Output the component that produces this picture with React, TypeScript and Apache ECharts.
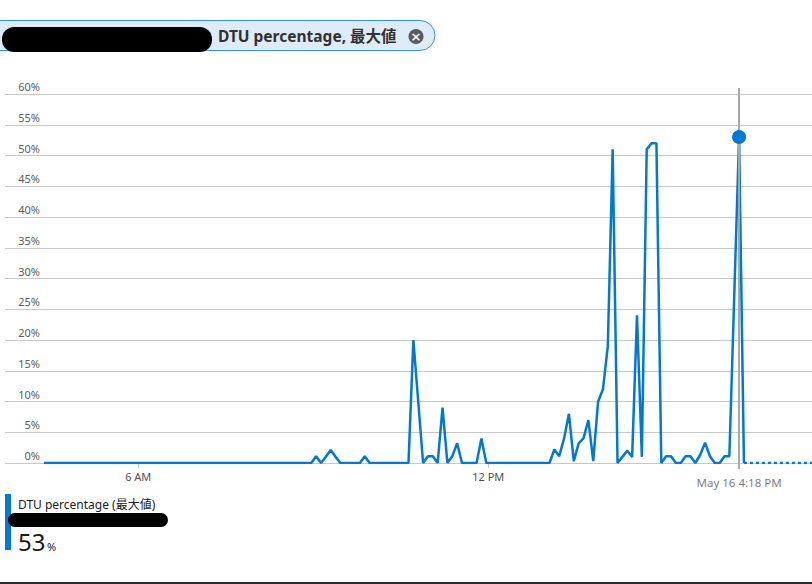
import React, { useEffect, useRef } from "react";
import * as echarts from "echarts";

// ---- data ----
const startMinute = 263; // 4:23 AM, first sample
const stepMinutes = 5; // sampling grain
const axisStartMinute = 223;
const axisEndMinute = 1053;
const xTickMinutes = [360, 720];
const xTickLabels = ["6 AM", "12 PM"];
const metricTitle = "DTU percentage, 最大値";
const legendTitle = "DTU percentage (最大値)";
const dateLabel = "May 16";

const dtuValues = [
  0, 0, 0, 0, 0, 0, 0, 0, 0, 0,
  0, 0, 0, 0, 0, 0, 0, 0, 0, 0,
  0, 0, 0, 0, 0, 0, 0, 0, 0, 0,
  0, 0, 0, 0, 0, 0, 0, 0, 0, 0,
  0, 0, 0, 0, 0, 0, 0, 0, 0, 0,
  0, 0, 0, 0, 0, 0,
  1.1, 0, 1.0, 2.1, 1.0,
  0, 0, 0, 0, 0,
  1.1,
  0, 0, 0, 0, 0, 0, 0, 0, 0,
  20, 10, 0, 1.1, 1.1, 0, 9, 0, 1.1, 3.2,
  0, 0, 0, 0,
  4,
  0, 0, 0, 0, 0, 0, 0, 0, 0, 0, 0, 0, 0, 0,
  2.2, 1.1, 4, 8, 0.3, 3.2, 4, 7, 0.3, 10, 12, 19, 51,
  0, 1, 2, 1, 24, 1, 51, 52, 52,
  0, 1.1, 1.1, 0, 0, 1.1, 1.1, 0, 1.3, 3.3, 1.1, 0, 0, 1.1, 1.1, 27, 53, 0,
];

const FONT = "'Noto Sans', 'Noto Sans CJK JP', sans-serif";
const BLUE = "#0078d4";

function fmtClock(m: number): string {
  const h24 = Math.floor(m / 60) % 24;
  const mm = Math.round(m % 60);
  const ap = h24 >= 12 ? "PM" : "AM";
  let h = h24 % 12;
  if (h === 0) h = 12;
  return mm === 0 ? `${h} ${ap}` : `${h}:${String(mm).padStart(2, "0")} ${ap}`;
}

export default function App() {
  const ref = useRef<HTMLDivElement>(null);

  useEffect(() => {
    if (!ref.current) return;
    const chart = echarts.init(ref.current, undefined, { renderer: "svg" });

    const points = dtuValues.map((v, i) => [startMinute + i * stepMinutes, v]);
    const lastIdx = dtuValues.length - 1;
    const lastT = startMinute + lastIdx * stepMinutes;
    const maxVal = Math.max(...dtuValues);
    const crossIdx = dtuValues.indexOf(maxVal);
    const crossT = startMinute + crossIdx * stepMinutes;
    const crossLabel = `${dateLabel} ${fmtClock(crossT)}`;

    chart.setOption({
      animation: false,
      textStyle: { fontFamily: FONT },
      grid: [
        { left: 5, right: 0, top: 94, bottom: 121, containLabel: false },
        // crosshair grid (slightly taller than the plot)
        { left: 5, right: 0, top: 88, bottom: 115, containLabel: false },
      ],
      xAxis: [
        {
          type: "value",
          gridIndex: 0,
          min: axisStartMinute,
          max: axisEndMinute,
          axisLine: { show: false },
          splitLine: { show: false },
          axisTick: {
            show: true,
            customValues: xTickMinutes,
            length: 5,
            lineStyle: { color: "#c8c8c8", width: 1 },
          },
          axisLabel: {
            customValues: [...xTickMinutes, crossT],
            margin: 8,
            fontSize: 11,
            color: "#505050",
            fontFamily: FONT,
            formatter: (v: number) => {
              const i = xTickMinutes.indexOf(v);
              if (i >= 0) return xTickLabels[i];
              if (v === crossT) return `{hl|${crossLabel}}`;
              return "";
            },
            rich: {
              hl: { color: "#808080", fontSize: 11.5, fontFamily: FONT, padding: [6, 0, 0, 0] },
            },
          },
        },
        {
          type: "value",
          gridIndex: 1,
          min: axisStartMinute,
          max: axisEndMinute,
          show: false,
        },
      ],
      yAxis: [
        {
          type: "value",
          gridIndex: 0,
          min: 0,
          max: 60,
          interval: 5,
          axisLine: { show: false },
          axisTick: { show: false },
          splitLine: { show: true, lineStyle: { color: "#c8c8c8", width: 1 } },
          axisLabel: {
            inside: true,
            margin: 35,
            align: "right",
            verticalAlign: "bottom",
            padding: [0, 0, 2, 0],
            fontSize: 11,
            color: "#605e5c",
            fontFamily: FONT,
            formatter: (v: number) => `${v}%`,
          },
        },
        {
          type: "value",
          gridIndex: 1,
          min: 0,
          max: 1,
          show: false,
        },
      ],
      series: [
        {
          type: "line",
          xAxisIndex: 1,
          yAxisIndex: 1,
          data: [],
          z: 1,
          markLine: {
            silent: true,
            symbol: ["none", "none"],
            label: { show: false },
            lineStyle: { color: "#a8a8a8", width: 2, type: "solid" },
            data: [[{ coord: [crossT, 0] }, { coord: [crossT, 1] }]],
          },
        },
        {
          type: "line",
          data: points,
          showSymbol: false,
          lineStyle: { color: BLUE, width: 2.5 },
          itemStyle: { color: BLUE },
          z: 3,
          markPoint: {
            silent: true,
            symbol: "circle",
            symbolSize: 14,
            label: { show: false },
            itemStyle: { color: BLUE },
            data: [{ coord: [crossT, maxVal] }],
          },
        },
        {
          type: "line",
          data: [
            [lastT, dtuValues[lastIdx]],
            [axisEndMinute, dtuValues[lastIdx]],
          ],
          showSymbol: false,
          lineStyle: { color: BLUE, width: 2.5, type: [3, 3] },
          z: 3,
        },
      ],
      graphic: [
        // header pill
        {
          type: "rect",
          shape: { x: -30, y: 20.5, width: 465, height: 30, r: 15 },
          style: { fill: "#deecf9", stroke: "#3b8fe3", lineWidth: 1 },
        },
        {
          type: "rect",
          shape: { x: 2, y: 27, width: 210, height: 25, r: 12 },
          style: { fill: "#000" },
        },
        {
          type: "text",
          x: 218,
          y: 36,
          style: {
            text: metricTitle,
            fontSize: 15.5,
            fontWeight: "bold",
            fill: "#323130",
            fontFamily: FONT,
            verticalAlign: "middle",
          },
        },
        {
          type: "circle",
          shape: { cx: 416, cy: 36.5, r: 7.5 },
          style: { fill: "#5c5c5c" },
        },
        {
          type: "text",
          x: 416,
          y: 36.5,
          style: {
            text: "×",
            fontSize: 13,
            fontWeight: "bold",
            fill: "#fff",
            align: "center",
            verticalAlign: "middle",
            fontFamily: "'DejaVu Sans', sans-serif",
          },
        },
        // legend
        {
          type: "rect",
          shape: { x: 5, y: 494, width: 6, height: 56 },
          style: { fill: BLUE },
        },
        {
          type: "text",
          x: 18,
          y: 504,
          style: {
            text: legendTitle,
            fontSize: 12,
            fill: "#1b1a19",
            fontFamily: FONT,
            verticalAlign: "middle",
          },
        },
        {
          type: "rect",
          shape: { x: 8, y: 513, width: 160, height: 14, r: 7 },
          style: { fill: "#000" },
        },
        {
          type: "text",
          x: 18,
          y: 541,
          style: {
            text: String(Math.round(maxVal)),
            fontSize: 24,
            fill: "#1b1a19",
            fontFamily: FONT,
            verticalAlign: "middle",
          },
        },
        {
          type: "text",
          x: 47,
          y: 546,
          style: {
            text: "%",
            fontSize: 11,
            fill: "#1b1a19",
            fontFamily: FONT,
            verticalAlign: "middle",
          },
        },
        // bottom border
        {
          type: "rect",
          shape: { x: 0, y: 582, width: 812, height: 2 },
          style: { fill: "#2b2b2b" },
        },
      ],
    });

    return () => chart.dispose();
  }, []);

  return (
    <div
      ref={ref}
      style={{ position: "absolute", left: 0, top: 0, width: 812, height: 584 }}
    />
  );
}
